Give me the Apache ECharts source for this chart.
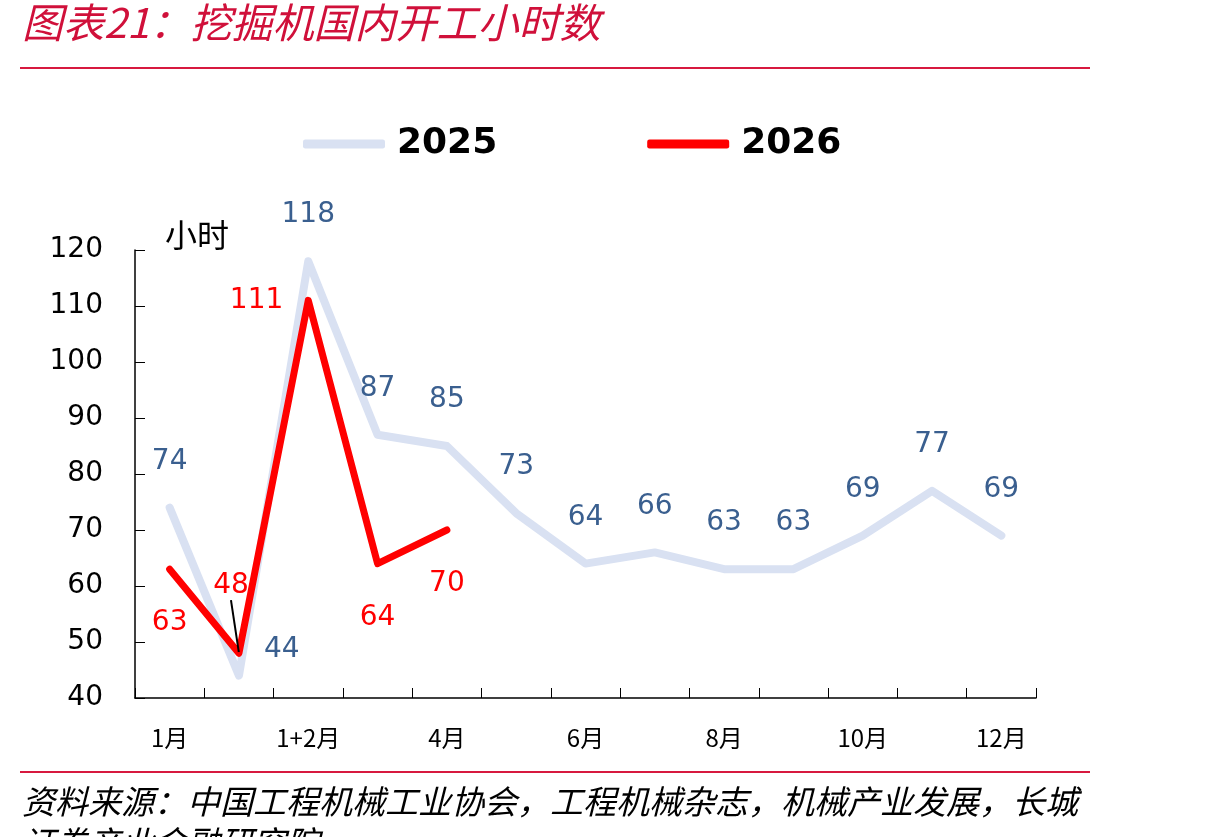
<!DOCTYPE html>
<html>
<head>
<meta charset="utf-8">
<script src="https://cdn.jsdelivr.net/npm/echarts@6/dist/echarts.min.js"></script>
<style>
  html, body { margin: 0; padding: 0; background: #fff; }
  #main { width: 1210px; height: 837px; }
</style>
</head>
<body>
<div id="main"></div>
<script type="text/javascript">
// 月份（"2月"不显示标签，只占位）
var months = ['1月', '2月', '1+2月', '3月', '4月', '5月', '6月', '7月', '8月', '9月', '10月', '11月', '12月'];
var hours2025 = [74, 44, 118, 87, 85, 73, 64, 66, 63, 63, 69, 77, 69];
var hours2026 = [63, 48, 111, 64, 70];
var yTicks = { min: 40, max: 120, step: 10 };

var cjk = '"Noto Sans CJK SC", sans-serif';
var num = '"DejaVu Sans", sans-serif';

var myChart = echarts.init(document.getElementById('main'));

// 2025 的标签：44 放在右上方，其余放点上方
var data2025 = hours2025.map(function (v, i) {
    if (i === 1) {
        return { value: v, label: { position: 'right', distance: 24, offset: [0, -26] } };
    }
    return v;
});
// 2026 的标签：111 在左侧，48 上方带引线，其余在下方
var data2026 = hours2026.map(function (v, i) {
    if (i === 2) {
        return { value: v, label: { position: 'left', distance: 24, offset: [0, 4] } };
    }
    if (i === 1) {
        return { value: v, label: { position: 'top', distance: 8 }, labelLine: { show: true, lineStyle: { color: '#000', width: 2 } } };
    }
    return v;
});

myChart.setOption({
    animation: false,
    backgroundColor: '#fff',
    graphic: [
        { type: 'text', left: 22, top: 2, style: { text: '图表21：挖掘机国内开工小时数', font: 'italic 41px ' + cjk, fill: '#D0103A' } },
        { type: 'rect', left: 20, top: 67, shape: { width: 1070, height: 2 }, style: { fill: '#D7193F' } },
        { type: 'rect', left: 20, top: 771, shape: { width: 1070, height: 2 }, style: { fill: '#D7193F' } },
        { type: 'text', left: 22, top: 785, style: { text: '资料来源：中国工程机械工业协会，工程机械杂志，机械产业发展，长城', font: 'italic 33px ' + cjk, fill: '#000' } },
        { type: 'text', left: 22, top: 826, style: { text: '证券产业金融研究院', font: 'italic 33px ' + cjk, fill: '#000' } }
    ],
    legend: {
        left: 298,
        top: 121,
        itemGap: 150,
        itemWidth: 82,
        itemHeight: 9,
        icon: 'roundRect',
        textStyle: { fontFamily: num, fontSize: 36, fontWeight: 'bold', color: '#000', padding: [0, 0, 0, 7] },
        data: ['2025', '2026']
    },
    grid: { left: 135, right: 174, top: 250, bottom: 139 },
    xAxis: {
        type: 'category',
        data: months,
        boundaryGap: true,
        axisLine: { lineStyle: { color: '#000', width: 1.5 } },
        axisTick: { show: true, inside: true, length: 10, interval: 0, lineStyle: { color: '#000' } },
        axisLabel: { interval: 1, margin: 28, fontFamily: cjk, fontSize: 24, color: '#000' },
        splitLine: { show: false }
    },
    yAxis: {
        type: 'value',
        min: yTicks.min,
        max: yTicks.max,
        interval: yTicks.step,
        name: '小时',
        nameLocation: 'end',
        nameGap: 15,
        nameTextStyle: { fontFamily: cjk, fontSize: 32, color: '#000', align: 'left', verticalAlign: 'middle', padding: [0, 0, 0, 30] },
        axisLine: { show: true, lineStyle: { color: '#000', width: 1.5 } },
        axisTick: { show: true, inside: true, length: 10, lineStyle: { color: '#000' } },
        axisLabel: { margin: 32, fontFamily: num, fontSize: 28, color: '#000' },
        splitLine: { show: false }
    },
    series: [
        {
            name: '2025',
            type: 'line',
            data: data2025,
            symbol: 'circle',
            symbolSize: 2,
            itemStyle: { color: '#D9E1F2' },
            lineStyle: { color: '#D9E1F2', width: 8, cap: 'round', join: 'round' },
            label: { show: true, position: 'top', distance: 31, fontFamily: num, fontSize: 28, color: '#3A5F8F' },
            z: 2
        },
        {
            name: '2026',
            type: 'line',
            data: data2026,
            symbol: 'circle',
            symbolSize: 2,
            itemStyle: { color: '#FF0000' },
            lineStyle: { color: '#FF0000', width: 7, cap: 'round', join: 'round' },
            label: { show: true, position: 'bottom', distance: 39, fontFamily: num, fontSize: 28, color: '#FF0000' },
            labelLayout: function (params) {
                if (params.dataIndex === 1) {
                    return { dx: -8, dy: -44 };
                }
            },
            z: 3
        }
    ]
});
</script>
</body>
</html>
